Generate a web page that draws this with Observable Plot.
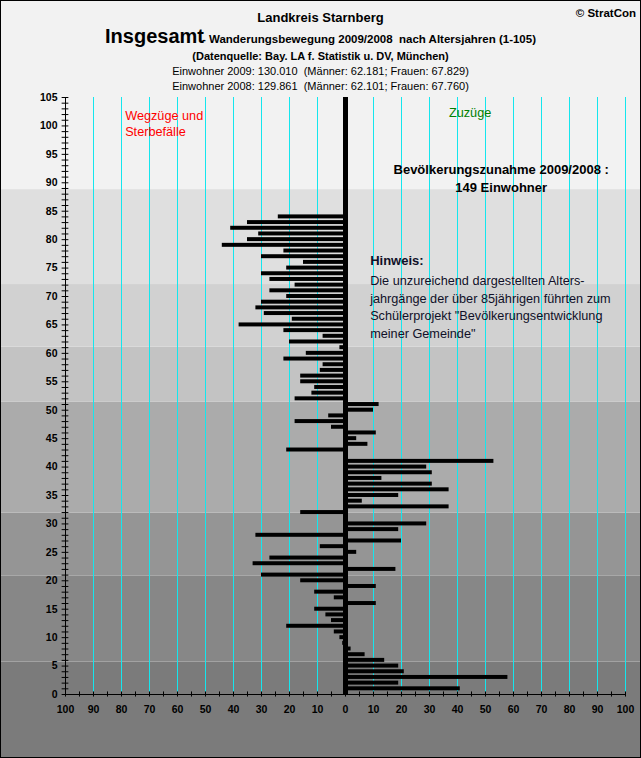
<!DOCTYPE html>
<html>
<head>
<meta charset="utf-8">
<script src="https://cdn.jsdelivr.net/npm/d3@7"></script>
<script src="https://cdn.jsdelivr.net/npm/@observablehq/plot@0.6"></script>
<style>
  body { margin: 0; background: #fff; }
  #chart { position: relative; width: 641px; height: 758px; overflow: hidden;
           font-family: "Liberation Sans", Arial, sans-serif; }
  #chart svg { position: absolute; left: 0; top: 0; }
  .hdr { position: absolute; left: 0; width: 641px; text-align: center; line-height: 1;
         white-space: pre; color: #000; }
  #frame { position: absolute; left: 0; top: 0; width: 641px; height: 758px;
           border: 1px solid #000; box-sizing: border-box; pointer-events: none; }
</style>
</head>
<body>
<div id="chart"></div>
<script>
// Net migration (Zuzüge minus Wegzüge/Sterbefälle) per age year, Landkreis Starnberg 2009/2008
const ages = [
   1,  2,  3,  4,  5,  6,  7,  8,  9, 10, 11, 12, 13, 14, 15, 16, 17, 18, 19, 20,
  21, 22, 23, 24, 25, 26, 27, 28, 29, 30, 31, 32, 33, 34, 35, 36, 37, 38, 39, 40,
  41, 42, 43, 44, 45, 46, 47, 48, 49, 50, 51, 52, 53, 54, 55, 56, 57, 58, 59, 60,
  61, 62, 63, 64, 65, 66, 67, 68, 69, 70, 71, 72, 73, 74, 75, 76, 77, 78, 79, 80,
  81, 82, 83, 84
];
const netMigration = [
   41,  19,  58,  21,  19,  14,   7,   2,  -1,  -2,  -4, -21,  -5,  -7, -11,  11,  -4, -11,  11, -16,
  -30,  18, -33, -27,   4,  -9,  20, -32,  19,  29,   0, -16,  37,   6,  19,  37,  31,  13,  31,  29,
   53,   1, -21,   8,   4,  11,  -5, -18,  -6,  10,  12, -18, -12, -11, -16, -16,  -9,  -8, -22, -14,
   -2, -20,  -8, -22, -38, -19, -29, -32, -30, -21, -27, -18, -27, -30, -21, -15, -30, -22, -44, -35,
  -31, -41, -35, -24
];

// Axis tick labels
const xTickLabels = [-100, -90, -80, -70, -60, -50, -40, -30, -20, -10, 0, 10, 20, 30, 40, 50, 60, 70, 80, 90, 100];
const yTickLabels = [0, 5, 10, 15, 20, 25, 30, 35, 40, 45, 50, 55, 60, 65, 70, 75, 80, 85, 90, 95, 100, 105];

// Age-group background stripes (edges in age years, bottom to top)
const bandEdges  = [-12, 5.7, 20.8, 31.9, 51.4, 61.1, 72.1, 88.8, 125];
const bandColors = ["#7b7b7b", "#878787", "#959595", "#ababab", "#c3c3c3", "#d1d1d1", "#dfdfdf", "#f2f2f2"];

// Text content
const textWegzuege = "Wegzüge und\nSterbefälle";
const textZuzuege = "Zuzüge";
const textZunahme = "Bevölkerungszunahme 2009/2008 :\n149 Einwohner";
const textHinweisTitle = "Hinweis:";
const textHinweis = "Die unzureichend dargestellten Alters-\njahrgänge der über 85jährigen führten zum\nSchülerprojekt \"Bevölkerungsentwicklung\nmeiner Gemeinde\"";

const rows = ages.map((age, i) => ({age, value: netMigration[i]}));
const bands = bandColors.map((color, i) => ({lo: bandEdges[i], hi: bandEdges[i + 1], color}));
const gridValues = xTickLabels.filter(v => v !== 0 && v !== -100);
const yMinor = d3.range(0, 106);
const xMinor = d3.range(-100, 101, 5);

const font = "\"Liberation Sans\", Arial, sans-serif";

const plot = Plot.plot({
  width: 641,
  height: 758,
  marginLeft: 65,
  marginRight: 16,
  marginTop: 97,
  marginBottom: 64,
  x: {domain: [-100, 100], axis: null},
  y: {domain: [0, 105], axis: null},
  color: {type: "identity"},
  style: {background: "transparent", fontFamily: font, overflow: "visible"},
  marks: [
    // background stripes spanning the full width
    Plot.rect(bands, {x1: -140, x2: 140, y1: "lo", y2: "hi", fill: "color"}),
    // vertical grid
    Plot.ruleX(gridValues, {y1: 0, y2: 105, stroke: "#14e6ee", strokeWidth: 1}),
    // migration bars
    Plot.rect(rows.filter(d => d.value !== 0), {
      x1: 0, x2: "value",
      y1: d => d.age - 0.35, y2: d => d.age + 0.35,
      fill: "#000"
    }),
    // thick zero line
    Plot.ruleX([0], {y1: 0, y2: 105, stroke: "#000", strokeWidth: 5}),
    // axis lines
    Plot.ruleX([-100], {y1: 0, y2: 105, stroke: "#000"}),
    Plot.ruleY([0], {x1: -100, x2: 100, stroke: "#000"}),
    // cross ticks
    Plot.ruleY(yMinor, {x1: -101.2, x2: -98.8, stroke: "#000"}),
    Plot.ruleX(xMinor, {y1: -0.45, y2: 0.45, stroke: "#000"}),
    // tick labels
    Plot.text(yTickLabels, {
      x: -100, y: d => d, text: d => String(d),
      textAnchor: "end", dx: -8, fontWeight: "bold", fontSize: 10.5, fill: "#000"
    }),
    Plot.text(xTickLabels, {
      x: d => d, y: 0, text: d => String(Math.abs(d)),
      dy: 15.5, fontWeight: "bold", fontSize: 10.5, fill: "#000"
    }),
    // annotations
    Plot.text([textWegzuege], {
      x: -78.7, y: 103.1, text: d => d, textAnchor: "start", lineAnchor: "top",
      fill: "#ff0000", fontSize: 12.7, lineHeight: 1.28
    }),
    Plot.text([textZuzuege], {
      x: 44.5, y: 103.1, text: d => d, textAnchor: "middle", lineAnchor: "top",
      fill: "#008000", fontSize: 12.7
    }),
    Plot.text([textZunahme], {
      x: 55.6, y: 93.8, text: d => d, textAnchor: "middle", lineAnchor: "top",
      fill: "#000", fontSize: 13, fontWeight: "bold", lineHeight: 1.385
    }),
    Plot.text([textHinweisTitle], {
      x: 8.8, y: 77.2, text: d => d, textAnchor: "start", lineAnchor: "top",
      fill: "#101028", fontSize: 13, fontWeight: "bold"
    }),
    Plot.text([textHinweis], {
      x: 8.8, y: 74.2, text: d => d, textAnchor: "start", lineAnchor: "top",
      fill: "#101028", fontSize: 12.7, lineHeight: 1.38
    })
  ]
});

const chart = document.getElementById("chart");
chart.appendChild(plot);

// Header lines
function header(html, style) {
  const div = document.createElement("div");
  div.className = "hdr";
  div.innerHTML = html;
  div.setAttribute("style", style);
  chart.appendChild(div);
  return div;
}
header("Landkreis Starnberg", "top:11px;font-size:13px;font-weight:bold;");
header("© StratCon", "top:7.5px;left:auto;right:5px;width:auto;font-size:11.5px;font-weight:bold;");
header(
  "<span style=\"font-size:20px;font-weight:bold;\">Insgesamt</span>" +
  "<span style=\"font-size:11.5px;font-weight:bold;margin-left:-2px;\">- Wanderungsbewegung 2009/2008  nach Altersjahren (1-105)</span>",
  "top:26px;display:flex;justify-content:center;align-items:baseline;"
);
header("(Datenquelle: Bay. LA f. Statistik u. DV, München)", "top:50.7px;font-size:11px;font-weight:bold;");
header("Einwohner 2009: 130.010  (Männer: 62.181; Frauen: 67.829)", "top:66.2px;font-size:11px;");
header("Einwohner 2008: 129.861  (Männer: 62.101; Frauen: 67.760)", "top:80.7px;font-size:11px;");

const frame = document.createElement("div");
frame.id = "frame";
chart.appendChild(frame);
</script>
</body>
</html>
